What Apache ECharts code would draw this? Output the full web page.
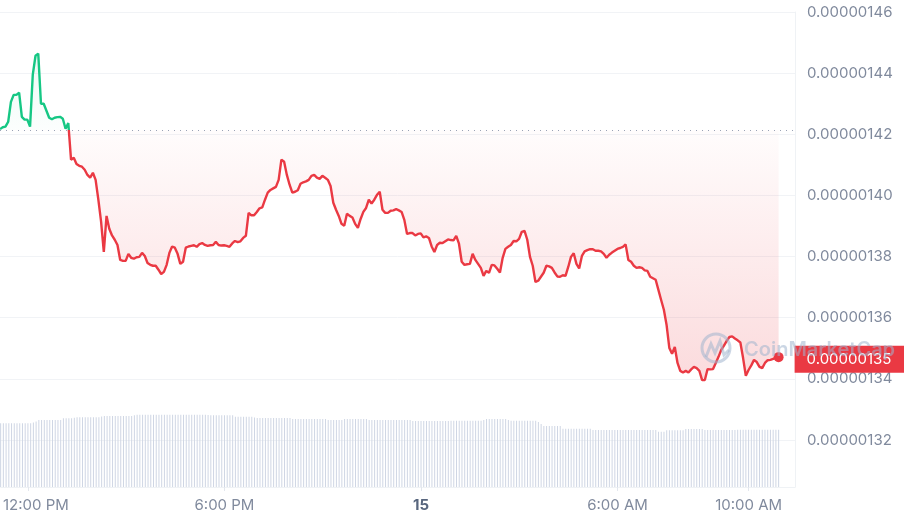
<!DOCTYPE html>
<html><head><meta charset="utf-8">
<script src="https://cdn.jsdelivr.net/npm/echarts@6/dist/echarts.min.js"></script>
<style>html,body{margin:0;padding:0;background:#fff}#c{width:904px;height:522px}</style>
</head><body><div id="c"></div>
<script>
// Price in units of 1e-8 USD (e.g. 142.17 = 0.0000014217), one point per 5 minutes from 11:10 AM (day 14)
const priceE8 = [
142.17,142.23,142.25,142.41,143.06,143.29,143.29,143.36,142.57,142.48,
142.48,142.25,143.95,144.57,144.64,143.00,143.00,142.77,142.54,142.49,
142.54,142.56,142.57,142.51,142.18,142.37,141.17,141.23,141.03,140.97,
140.94,140.84,140.67,140.58,140.74,140.51,139.86,139.14,138.15,139.33,
138.91,138.69,138.55,138.38,137.89,137.86,137.86,138.09,137.96,137.93,
137.98,137.99,138.12,138.02,137.79,137.73,137.70,137.70,137.57,137.43,
137.50,137.73,138.12,138.33,138.29,138.09,137.76,137.83,138.29,138.33,
138.35,138.37,138.32,138.41,138.44,138.38,138.35,138.37,138.38,138.48,
138.38,138.36,138.37,138.35,138.32,138.43,138.51,138.47,138.50,138.61,
138.68,139.43,139.35,139.35,139.46,139.58,139.61,139.86,140.09,140.18,
140.23,140.28,140.51,141.17,141.10,140.67,140.35,140.09,140.12,140.17,
140.38,140.43,140.46,140.51,140.64,140.67,140.58,140.54,140.64,140.58,
140.51,140.31,139.76,139.53,139.33,139.07,139.01,139.40,139.33,139.28,
139.07,138.94,139.23,139.46,139.59,139.86,139.73,139.86,140.02,140.12,
139.53,139.43,139.43,139.50,139.51,139.55,139.51,139.46,139.20,138.74,
138.77,138.77,138.69,138.74,138.76,138.63,138.66,138.61,138.33,138.15,
138.38,138.45,138.44,138.50,138.56,138.54,138.53,138.68,138.42,137.83,
137.73,137.75,137.76,138.09,137.89,137.76,137.63,137.37,137.53,137.47,
137.73,137.71,137.60,137.48,137.96,138.25,138.32,138.38,138.51,138.50,
138.58,138.81,138.84,138.55,137.99,137.70,137.17,137.21,137.34,137.47,
137.70,137.68,137.63,137.48,137.35,137.34,137.39,137.37,137.66,137.99,
138.11,137.76,137.61,138.02,138.17,138.21,138.24,138.24,138.19,138.19,
138.17,138.09,137.96,138.06,138.13,138.19,138.25,138.28,138.32,138.40,
137.89,137.83,137.70,137.63,137.65,137.63,137.55,137.53,137.34,137.29,
137.24,136.91,136.58,136.26,135.76,135.01,134.82,135.04,134.52,134.26,
134.21,134.26,134.21,134.31,134.39,134.35,134.26,133.96,133.96,134.32,
134.31,134.32,134.52,134.72,134.95,135.09,135.24,135.37,135.39,135.32,
135.26,135.19,134.68,134.10,134.29,134.44,134.62,134.55,134.39,134.35,
134.52,134.61,134.62,134.65,134.70,134.71
];
// Volume (relative units), same 5-minute points
const volume = [
63.7,63.7,63.7,63.7,63.7,63.7,63.7,63.7,63.7,63.7,63.7,63.7,
64.5,65.5,
67,67,67,67,67,67,67,67,67,
68.7,68.7,68.7,68.7,69.2,
69.7,69.7,69.7,69.7,69.7,69.7,69.7,69.7,69.7,70.5,
71,71,71,71,71,71,71,71,71,71,71,71.8,
72.3,72.3,72.3,72.3,72.3,72.3,72.3,72.3,72.3,72.3,72.3,72.3,72.3,
72.3,72.3,72.3,72.3,72.3,72.3,72.3,72.3,72.3,72.3,72.3,72.3,72.3,72,
71.7,71.7,71.7,71.7,71.7,71.7,71.7,71.7,71.7,
70.3,70.3,70.3,70.3,70.3,70.3,70.3,69.5,
69,69,69,69,69,69,69,69,69,69,69,69,69,
68,68,68,68,68,68,68,68,68,68,68,68,68,
67,67,67,67,67,67,
68,68,68,68,68,68,68,68,68,
67,67,67,67,67,67,67,67,67,67,67,67,67,67,67,67,
66,66,66,66,66,66,66,66,66,66,66,66,66,66,
66.3,66.3,66.3,66.3,66.3,66.3,66.3,66.3,66.3,66.3,66.3,66.3,67,
68,68,68,68,68,68,68,68,67,
66.3,66.3,66.3,66.3,66.3,66.3,66.3,66.3,66.3,66.3,65,63,
61,61,61,61,61,61,61,
58.3,58.3,58.3,58.3,58.3,58.3,58.3,58.3,58.3,58.3,58.3,
57,57,57,57,57,57,57,57,57,57,57,57,57,57,57,57,57,57,57,57,57,57,57,57,
55.3,55.3,55.3,
56.7,56.7,56.7,56.7,56.7,56.7,56.7,
58,58,58,58,58,58,58,
57,57,57,57,57,57,57,57,57,57,57,57,
57.3,57.3,57.3,57.3,57.3,57.3,57.3,57.3,57.3,57.3,57.3,57.3,57.3,57.3,57.3,57.3
];
const openPriceE8 = 142.13;
const yTicksE8 = { min: 132, max: 146, step: 2 };
const tickCats = ['14 12:00', '14 18:00', '15 00:00', '15 06:00', '15 10:00'];
const tickLabels = ['12:00 PM', '6:00 PM', '15', '6:00 AM', '10:00 AM'];
const slotCount = 292; // 5-minute slots shown on the time axis, starting 11:10 on day 14
const startMinutes = 11 * 60 + 10;

const cats = [];
for (let i = 0; i < slotCount; i++) {
  const t = startMinutes + i * 5;
  const day = 14 + Math.floor(t / 1440);
  const m = t % 1440;
  cats.push(day + ' ' + String(Math.floor(m / 60)).padStart(2, '0') + ':' + String(m % 60).padStart(2, '0'));
}
const fmt = v => (v / 1e8).toFixed(8);
const lastIdx = priceE8.length - 1;
const lastVal = priceE8[lastIdx];
const FONT = 'Inter';
const GRAY = '#808a9d';
const LINEC = '#eff2f5';
const wm = 'rgba(160,180,205,0.55)';
const GREEN = '#16c784', RED = '#ea3943';

// grid 0 spans pixel y 12 (axis max) .. 440 (axis min)
const gTop = 12, gBot = 440;
const cut = (yTicksE8.max - openPriceE8) / (yTicksE8.max - yTicksE8.min);
const lineGrad = {
  type: 'linear', x: 0, y: gTop, x2: 0, y2: gBot, global: true,
  colorStops: [
    { offset: 0, color: GREEN }, { offset: cut, color: GREEN },
    { offset: cut, color: RED }, { offset: 1, color: RED }
  ]
};
const areaGrad = {
  type: 'linear', x: 0, y: gTop, x2: 0, y2: gBot, global: true,
  colorStops: [
    { offset: 0, color: 'rgba(22,199,132,0.16)' },
    { offset: cut, color: 'rgba(22,199,132,0.02)' },
    { offset: cut, color: 'rgba(234,57,67,0.02)' },
    { offset: 0.88, color: 'rgba(234,57,67,0.27)' },
    { offset: 1, color: 'rgba(234,57,67,0.3)' }
  ]
};

const chart = echarts.init(document.getElementById('c'), null, { renderer: 'canvas' });
chart.setOption({
  animation: false,
  backgroundColor: '#fff',
  grid: [
    { left: 0, right: 109, top: gTop, bottom: 522 - gBot },
    { left: 0, right: 109, top: 387, bottom: 35 }
  ],
  xAxis: [
    { type: 'category', gridIndex: 0, data: cats, boundaryGap: false, show: false },
    {
      type: 'category', gridIndex: 1, data: cats, boundaryGap: false,
      axisLine: { lineStyle: { color: LINEC } },
      axisTick: { show: true, length: 4, lineStyle: { color: '#e3e7ee' },
        interval: (idx, val) => tickCats.includes(val) },
      axisLabel: {
        interval: (idx, val) => tickCats.includes(val),
        margin: 11, color: GRAY, fontSize: 15, fontFamily: FONT,
        formatter: val => {
          const k = tickCats.indexOf(val);
          if (k < 0) return '';
          if (k === 0) return '{first|' + tickLabels[k] + '}';
          if (tickLabels[k] === '15') return '{day|' + tickLabels[k] + '}';
          return tickLabels[k];
        },
        rich: {
          first: { padding: [0, 0, 0, 16], color: GRAY, fontSize: 15, fontFamily: FONT },
          day: { color: '#58667e', fontWeight: 'bold', fontSize: 15, fontFamily: FONT }
        }
      },
      splitLine: { show: false }
    }
  ],
  yAxis: [
    {
      type: 'value', gridIndex: 0, position: 'right',
      min: yTicksE8.min, max: yTicksE8.max, interval: yTicksE8.step,
      axisLine: { show: true, lineStyle: { color: LINEC } },
      axisTick: { show: false },
      splitLine: { lineStyle: { color: '#f1f3f6' } },
      axisLabel: { formatter: fmt, color: GRAY, fontSize: 15, fontFamily: FONT, margin: 12 }
    },
    {
      type: 'value', gridIndex: 1, position: 'right', min: 0, max: 100,
      axisLine: { show: true, lineStyle: { color: LINEC } },
      axisTick: { show: false }, axisLabel: { show: false }, splitLine: { show: false }
    }
  ],
  series: [
    {
      type: 'bar', xAxisIndex: 1, yAxisIndex: 1, data: volume,
      barWidth: 1, itemStyle: { color: '#cfd6e4' }, silent: true, z: 1
    },
    {
      type: 'line', name: 'area', xAxisIndex: 0, yAxisIndex: 0, data: priceE8,
      symbol: 'none', silent: true, lineStyle: { width: 0, opacity: 0 },
      areaStyle: { origin: openPriceE8, color: areaGrad },
      z: 2
    },
    {
      type: 'line', name: 'price', xAxisIndex: 0, yAxisIndex: 0, data: priceE8,
      symbol: 'none', lineStyle: { width: 2.4, color: lineGrad }, itemStyle: { color: RED }, z: 3,
      markLine: {
        symbol: 'none', silent: true, animation: false,
        data: [
          { yAxis: openPriceE8, lineStyle: { type: [1, 5], color: '#9aa3b5', width: 1 }, label: { show: false } }
        ]
      }
    },
    {
      type: 'scatter', xAxisIndex: 0, yAxisIndex: 0,
      data: [[lastIdx, lastVal]], symbolSize: 10,
      itemStyle: { color: RED, opacity: 1 }, z: 4, silent: true,
      label: {
        show: true, position: 'right', distance: 11, offset: [0, 2],
        formatter: () => fmt(lastVal),
        backgroundColor: RED, color: '#fff', fontSize: 15, fontFamily: FONT,
        padding: [6, 14, 6, 12]
      }
    }
  ],
  graphic: [
    { type: 'circle', z: 100, silent: true, shape: { cx: 716, cy: 348, r: 14 },
      style: { fill: 'none', stroke: wm, lineWidth: 3 } },
    { type: 'polyline', z: 100, silent: true,
      shape: { points: [[706, 357], [711, 344], [715, 353], [720, 341], [724, 355], [729, 350]] },
      style: { fill: 'none', stroke: wm, lineWidth: 3 } },
    { type: 'text', z: 100, silent: true, x: 744, y: 350,
      style: { text: 'CoinMarketCap', fill: wm, font: '600 20px Inter', verticalAlign: 'middle' } }
  ]
});
</script></body></html>
